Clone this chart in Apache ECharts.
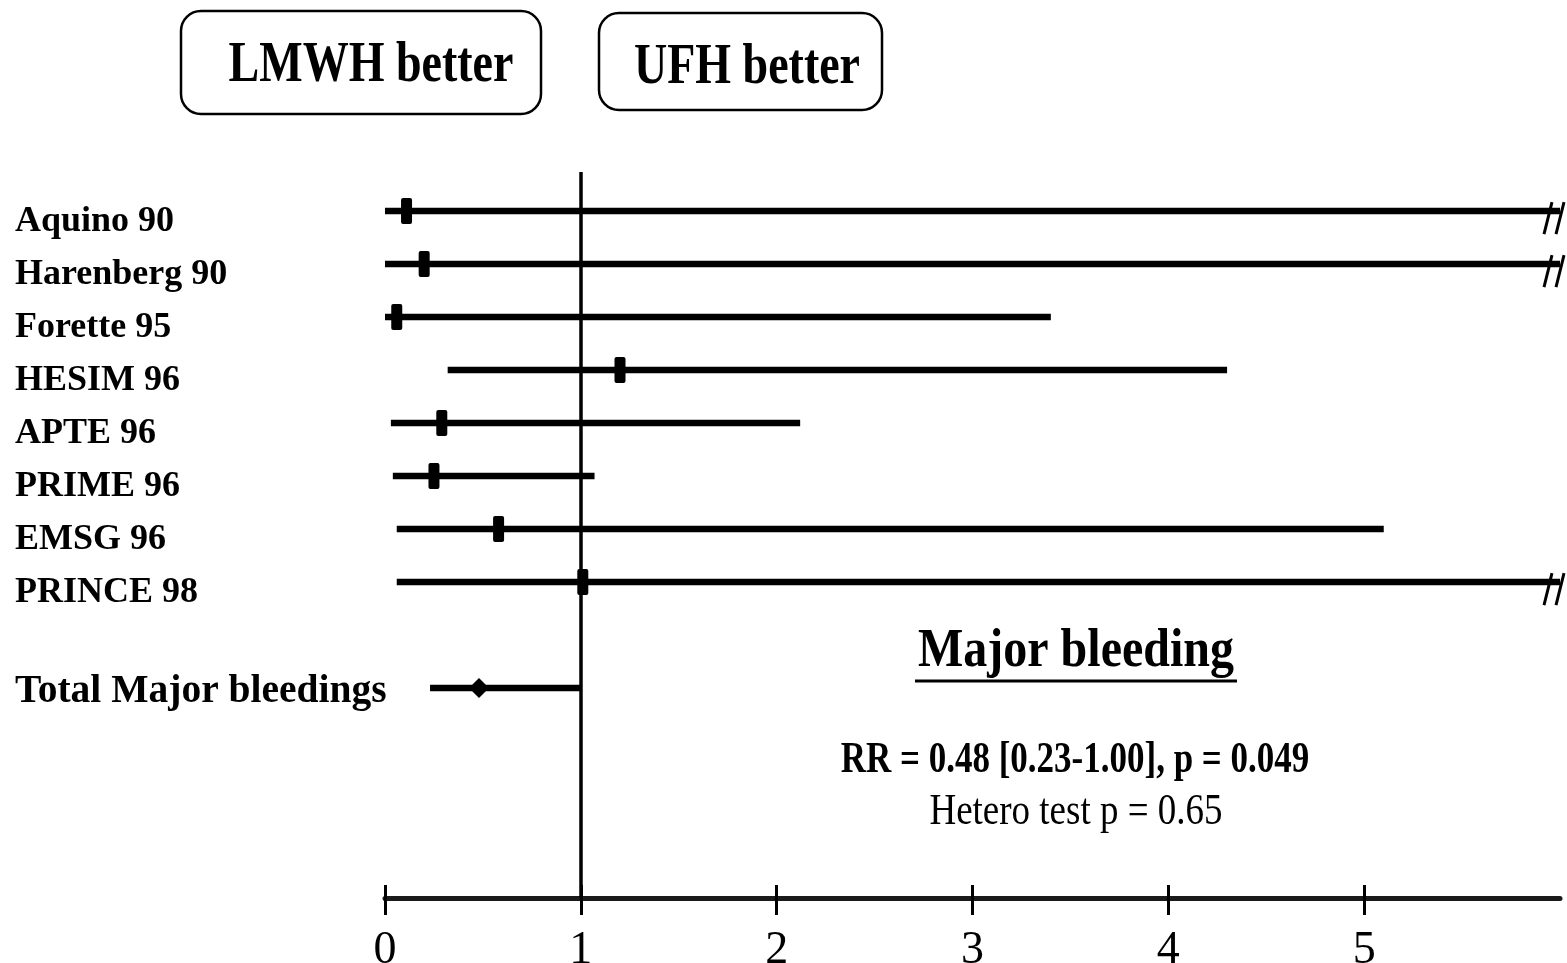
<!DOCTYPE html>
<html><head><meta charset="utf-8">
<script src="https://cdn.jsdelivr.net/npm/echarts@6/dist/echarts.min.js"></script>
<style>html,body{margin:0;padding:0;background:#fff}#c{width:1567px;height:963px}</style>
</head><body><div id="c"></div>
<script>
// ---- data ----
const studies  = ['Aquino 90','Harenberg 90','Forette 95','HESIM 96','APTE 96','PRIME 96','EMSG 96','PRINCE 98'];
const estimate = [0.11, 0.20, 0.06, 1.20, 0.29, 0.25, 0.58, 1.01];
const lower    = [0.00, 0.00, 0.00, 0.32, 0.03, 0.04, 0.06, 0.06];
const upper    = [null, null, 3.40, 4.30, 2.12, 1.07, 5.10, null]; // null = beyond axis (drawn with //)
const totalLabel = 'Total Major bleedings';
const totalRR    = 0.48;
const totalLower = 0.23;
const totalUpper = 1.00;
const xTicks = [0, 1, 2, 3, 4, 5];
const xMin = 0, xMax = 6;
const headerLeft = 'LMWH better';
const headerRight = 'UFH better';
const panelTitle = 'Major bleeding';
const statLine1 = 'RR = 0.48 [0.23-1.00], p = 0.049';
const statLine2 = 'Hetero test p = 0.65';

// ---- build ----
const totalRow = studies.length + 1;
const rowNames = {};
studies.forEach((s, i) => rowNames[i] = s);
rowNames[totalRow] = totalLabel;
const rowValues = studies.map((s, i) => i).concat([totalRow]);

const data = studies.map((s, i) => [lower[i], estimate[i], upper[i] == null ? xMax : upper[i], i, upper[i] == null ? 1 : 0, 0]);
data.push([totalLower, totalRR, totalUpper, totalRow, 0, 1]);

const FONT = '"Liberation Serif", "Times New Roman", serif';

function renderItem(params, api) {
  const lo = api.value(0), est = api.value(1), hi = api.value(2), row = api.value(3);
  const trunc = api.value(4), isTot = api.value(5);
  const pLo = api.coord([lo, row]), pHi = api.coord([hi, row]), pE = api.coord([est, row]);
  const ch = [{ type: 'line', shape: { x1: pLo[0], y1: pLo[1], x2: pHi[0], y2: pHi[1] },
    style: { stroke: '#000', lineWidth: 6.5 } }];
  if (isTot) {
    ch.push({ type: 'polygon', shape: { points: [[pE[0]-10, pE[1]], [pE[0], pE[1]-10], [pE[0]+10, pE[1]], [pE[0], pE[1]+10]] },
      style: { fill: '#000' } });
  } else {
    ch.push({ type: 'rect', shape: { x: pE[0]-5.5, y: pE[1]-13, width: 11, height: 26, r: 2 }, style: { fill: '#000' } });
  }
  if (trunc) {
    [-8, 4].forEach(dx => ch.push({ type: 'line',
      shape: { x1: pHi[0]+dx, y1: pHi[1]-9, x2: pHi[0]+dx-8, y2: pHi[1]+23 },
      style: { stroke: '#000', lineWidth: 3 } }));
  }
  return { type: 'group', children: ch };
}

const chart = echarts.init(document.getElementById('c'));
const xCommon = { type: 'value', min: xMin, max: xMax, interval: 1, splitLine: { show: false }, position: 'bottom', gridIndex: 0 };
chart.setOption({
  backgroundColor: '#fff',
  animation: false,
  grid: { left: 385, right: 7, top: 172, bottom: 65, containLabel: false, outerBoundsMode: 'none' },
  xAxis: [
    Object.assign({}, xCommon, {
      axisLine: { show: true, onZero: false, lineStyle: { color: '#1a1a1a', width: 5 } },
      axisTick: { show: true, inside: true, length: 13, customValues: xTicks, lineStyle: { color: '#000', width: 3 } },
      axisLabel: { show: true, customValues: xTicks, margin: 30, fontFamily: FONT, fontSize: 46, color: '#000' }
    }),
    Object.assign({}, xCommon, {
      axisLine: { show: false, onZero: false },
      axisTick: { show: true, inside: false, length: 17, customValues: xTicks, lineStyle: { color: '#000', width: 3 } },
      axisLabel: { show: false }
    })
  ],
  yAxis: {
    type: 'value', inverse: true, min: -0.736, max: 12.96,
    axisLine: { show: false }, axisTick: { show: false }, splitLine: { show: false },
    axisLabel: {
      show: true, customValues: rowValues, align: 'left', margin: 370,
      formatter: v => (v === totalRow ? '{t|' + rowNames[v] + '}' : '{s|' + rowNames[v] + '}'),
      rich: {
        s: { fontFamily: FONT, fontWeight: 'bold', fontSize: 36, color: '#000', padding: [22, 0, 0, 0] },
        t: { fontFamily: FONT, fontWeight: 'bold', fontSize: 39.5, color: '#000', padding: [8, 0, 0, 0] }
      }
    }
  },
  series: [{
    type: 'custom', renderItem, data, clip: false,
    encode: { x: [0, 1, 2], y: 3 },
    markLine: {
      silent: true, symbol: 'none', label: { show: false },
      lineStyle: { color: '#000', width: 3.5, type: 'solid' },
      data: [{ xAxis: 1 }]
    }
  }],
  graphic: [
    { type: 'rect', shape: { x: 181, y: 11, width: 360, height: 103, r: 20 }, style: { fill: '#fff', stroke: '#000', lineWidth: 2.5 } },
    { type: 'text', x: 371, y: 66, scaleY: 1.25, style: { text: headerLeft, font: 'bold 46px ' + FONT, fill: '#000', align: 'center', verticalAlign: 'middle' } },
    { type: 'rect', shape: { x: 599, y: 13, width: 283, height: 97, r: 20 }, style: { fill: '#fff', stroke: '#000', lineWidth: 2.5 } },
    { type: 'text', x: 747, y: 68, scaleY: 1.25, style: { text: headerRight, font: 'bold 46px ' + FONT, fill: '#000', align: 'center', verticalAlign: 'middle' } },
    { type: 'text', x: 1076, y: 652, scaleY: 1.15, style: { text: panelTitle, font: 'bold 48px ' + FONT, fill: '#000', align: 'center', verticalAlign: 'middle' } },
    { type: 'line', shape: { x1: 915, y1: 681, x2: 1237, y2: 681 }, style: { stroke: '#000', lineWidth: 3 } },
    { type: 'text', x: 1075, y: 761, scaleY: 1.25, style: { text: statLine1, font: 'bold 35px ' + FONT, fill: '#000', align: 'center', verticalAlign: 'middle' } },
    { type: 'text', x: 1076, y: 812, scaleY: 1.2, style: { text: statLine2, font: '37px ' + FONT, fill: '#000', align: 'center', verticalAlign: 'middle' } }
  ]
});
</script>
</body></html>
